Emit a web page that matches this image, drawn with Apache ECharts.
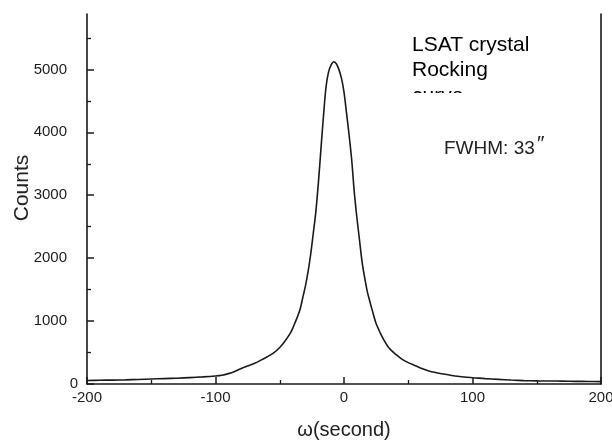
<!DOCTYPE html>
<html>
<head>
<meta charset="utf-8">
<script src="https://cdn.jsdelivr.net/npm/echarts@6/dist/echarts.min.js"></script>
<style>
html,body{margin:0;padding:0;background:#fff;}
#chart{width:612px;height:445px;}
</style>
</head>
<body>
<div id="chart"></div>
<script>
// ---- data ----
var omega = [-200,-190,-180,-170,-160,-150,-140,-130,-120,-110,-100,-95,-90,-85,-80,-75,-70,-65,-60,-55,-50,-46,-42,-40,-38,-36,-34,-32,-30,-28,-26,-24,-22,-20,-18,-16,-14,-12,-10,-8,-6,-4,-2,0,2,4,6,8,10,12,14,16,18,20,22,25,28,31,34,37,40,45,50,55,60,66,72,80,90,100,110,120,130,140,150,160,170,180,190,200];
var counts = [55,60,62,66,72,80,86,92,102,113,128,140,165,200,245,285,325,375,430,490,580,680,800,880,980,1080,1200,1380,1560,1780,2050,2380,2720,3180,3720,4250,4720,4960,5070,5120,5090,5000,4860,4640,4300,3950,3560,3050,2650,2300,1950,1700,1480,1320,1170,960,820,700,600,530,475,395,340,295,250,207,180,150,118,100,86,74,63,54,49,47,46,42,40,37];
var xTicksMajor = [-200,-100,0,100,200];
var yTicksMajor = [0,1000,2000,3000,4000,5000];
var yLabelsUpper = [1000,2000,3000,4000,5000];
var yLabelsZero = [0];
var yTicksMinor = [500,1500,2500,3500,4500,5500];
var xTitle = 'ω(second)';
var yTitle = 'Counts';
var noteLines = ['LSAT crystal','Rocking','curve'];
var fwhmText = 'FWHM: 33';

var pts = omega.map(function(x,i){return [x,counts[i]];});
var ink = '#1a1a1a';
var gridRect = {left:87, right:11, top:14, bottom:61};
var labelFont = {fontFamily:'Liberation Sans', fontSize:15, color:'#1c1c1c'};

var chart = echarts.init(document.getElementById('chart'), null, {renderer:'canvas'});
chart.setOption({
  animation:false,
  backgroundColor:'#fff',
  grid:[
    Object.assign({containLabel:false, outerBoundsMode:'none'}, gridRect),
    Object.assign({containLabel:false, outerBoundsMode:'none'}, gridRect)
  ],
  xAxis:[{
    type:'value', gridIndex:0, min:-200, max:200, interval:100,
    name:xTitle, nameLocation:'middle', nameGap:36,
    nameTextStyle:{fontFamily:'Liberation Sans', fontSize:20, color:'#222'},
    axisLine:{show:true, onZero:false, lineStyle:{color:ink, width:1.6}},
    axisTick:{show:true, inside:true, length:7, lineStyle:{color:ink, width:1.5}},
    minorTick:{show:true, splitNumber:2, length:4, lineStyle:{color:ink, width:1.3}},
    axisLabel:Object.assign({show:true, margin:6, customValues:xTicksMajor}, labelFont),
    splitLine:{show:false}, minorSplitLine:{show:false}
  },{
    type:'value', gridIndex:1, min:-200, max:200, show:false
  }],
  yAxis:[{
    type:'value', gridIndex:0, min:0, max:5880,
    name:yTitle, nameLocation:'middle', nameGap:54, nameMoveOverlap:false,
    nameTextStyle:{fontFamily:'Liberation Sans', fontSize:21, color:'#222', padding:[0,0,0,22]},
    axisLine:{show:true, onZero:false, lineStyle:{color:ink, width:1.6}},
    axisTick:{show:true, inside:true, length:7, lineStyle:{color:ink, width:1.5}, customValues:yTicksMajor},
    axisLabel:Object.assign({show:true, margin:20, customValues:yLabelsUpper, formatter:function(v){return String(v);}}, labelFont),
    splitLine:{show:false}
  },{
    type:'value', gridIndex:1, min:0, max:5880, position:'left',
    axisLine:{show:false, onZero:false},
    axisTick:{show:true, inside:true, length:4, lineStyle:{color:ink, width:1.3}, customValues:yTicksMinor},
    axisLabel:Object.assign({show:true, margin:9, customValues:yLabelsZero, formatter:function(v){return String(v);}}, labelFont),
    splitLine:{show:false}
  },{
    type:'value', gridIndex:1, min:0, max:5880, position:'right',
    axisLine:{show:true, onZero:false, lineStyle:{color:ink, width:1.6}},
    axisTick:{show:false}, axisLabel:{show:false}, splitLine:{show:false}
  }],
  series:[{
    type:'line', xAxisIndex:0, yAxisIndex:0, data:pts,
    showSymbol:false, symbol:'none', smooth:0.3,
    lineStyle:{color:ink, width:1.6}
  }],
  graphic:[
    {type:'text', left:412, top:35, z:10, style:{text:noteLines[0], font:'21px "Liberation Sans"', fill:'#000'}},
    {type:'text', left:412, top:60, z:10, style:{text:noteLines[1], font:'21px "Liberation Sans"', fill:'#000'}},
    {type:'text', left:412, top:86, z:10, style:{text:noteLines[2], font:'21px "Liberation Sans"', fill:'#000'}},
    {type:'rect', left:405, top:93, z:20, shape:{width:90, height:25}, style:{fill:'#fff'}},
    {type:'text', left:444, top:139, z:10, style:{text:fwhmText, font:'19px "Liberation Sans"', fill:'#222'}},
    {type:'text', left:536, top:134, z:10, style:{text:'″', font:'italic 21px "Liberation Sans"', fill:'#222'}}
  ]
});
</script>
</body>
</html>
